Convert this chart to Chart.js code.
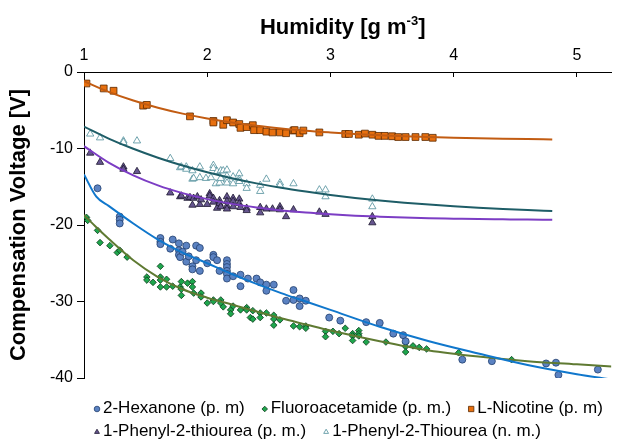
<!DOCTYPE html>
<html>
<head>
  <script src="https://cdn.jsdelivr.net/npm/chart.js"></script>
  <style>
    body { margin: 0; background: #fff; }
    #chart { display: block; }
  </style>
</head>
<body>
  <canvas id="chart" width="617" height="440"></canvas>
  <script>
    // measured points [humidity, compensation voltage]
    const hexanone = [
      [1.11,-15.2],[1.29,-18.9],[1.29,-19.3],[1.29,-19.8],[1.62,-21.7],[1.62,-22.2],[1.62,-22.5],
      [1.70,-23.1],[1.72,-21.9],[1.77,-22.4],[1.77,-23.3],[1.77,-23.9],[1.78,-24.2],[1.80,-23.5],
      [1.83,-22.7],[1.83,-24.8],[1.85,-24.1],[1.88,-25.4],[1.88,-25.8],[1.91,-22.7],[1.91,-24.6],
      [1.94,-23.0],[1.94,-26.0],[2.00,-25.0],[2.05,-23.9],[2.05,-24.2],[2.08,-24.6],[2.10,-26.0],
      [2.16,-24.6],[2.16,-25.1],[2.16,-25.5],[2.16,-26.0],[2.16,-26.4],[2.16,-27.0],[2.21,-26.7],
      [2.27,-26.5],[2.27,-28.0],[2.33,-27.0],[2.40,-27.0],[2.43,-27.5],[2.48,-27.8],[2.48,-28.6],
      [2.54,-27.8],[2.64,-29.9],[2.70,-28.5],[2.70,-29.8],[2.75,-29.6],[2.75,-30.6],[2.80,-29.9],
      [2.99,-32.1],[3.08,-32.5],[3.29,-32.7],[3.40,-32.8],[3.51,-34.2],[3.59,-34.4],[3.61,-35.2],
      [4.07,-37.6],[4.31,-37.8],[4.75,-38.1],[4.83,-38.0],[4.85,-39.6],[5.17,-38.9]
    ];
    const fluoroacetamide = [
      [1.02,-19.0],[1.03,-19.4],[1.11,-20.7],[1.13,-22.3],[1.21,-22.7],[1.27,-23.6],[1.29,-23.3],
      [1.35,-24.2],[1.51,-26.8],[1.51,-27.2],[1.56,-27.5],[1.62,-25.4],[1.62,-26.8],[1.62,-27.2],
      [1.62,-28.1],[1.67,-27.1],[1.67,-28.1],[1.72,-28.0],[1.78,-28.1],[1.79,-27.4],[1.79,-28.4],
      [1.79,-29.2],[1.84,-27.6],[1.88,-27.4],[1.88,-28.1],[1.89,-28.9],[1.95,-28.9],[1.95,-29.4],
      [2.00,-30.2],[2.05,-29.8],[2.05,-30.0],[2.11,-29.8],[2.11,-30.2],[2.13,-30.7],[2.19,-31.1],
      [2.19,-31.6],[2.21,-30.6],[2.27,-31.1],[2.32,-30.8],[2.32,-31.1],[2.35,-32.1],[2.37,-32.3],
      [2.37,-31.2],[2.43,-31.5],[2.43,-32.1],[2.48,-31.5],[2.54,-31.8],[2.54,-32.3],[2.54,-33.1],
      [2.59,-32.4],[2.70,-33.2],[2.75,-33.3],[2.80,-33.2],[2.80,-33.5],[2.96,-33.9],[2.96,-34.6],
      [3.02,-33.9],[3.07,-34.2],[3.12,-33.5],[3.18,-34.2],[3.18,-34.5],[3.18,-35.1],[3.23,-33.8],
      [3.23,-34.2],[3.23,-34.5],[3.29,-35.3],[3.45,-35.3],[3.61,-35.4],[3.61,-35.9],[3.61,-36.6],
      [3.67,-35.8],[3.72,-36.0],[3.78,-36.2],[4.04,-36.7],[4.47,-37.6]
    ];
    const nicotine = [
      [1.02,-1.5],[1.16,-2.15],[1.24,-2.45],[1.48,-4.4],[1.51,-4.3],[1.86,-5.8],[2.05,-6.4],
      [2.05,-6.6],[2.13,-6.9],[2.16,-6.3],[2.21,-6.6],[2.26,-6.8],[2.27,-7.3],[2.32,-7.2],
      [2.37,-6.95],[2.38,-7.6],[2.43,-7.6],[2.48,-7.8],[2.53,-7.9],[2.59,-7.9],[2.64,-8.0],
      [2.70,-7.65],[2.71,-7.6],[2.75,-8.0],[2.78,-7.65],[2.91,-7.9],[3.12,-8.1],[3.15,-8.1],
      [3.23,-8.2],[3.28,-8.05],[3.34,-8.2],[3.39,-8.35],[3.44,-8.35],[3.50,-8.4],[3.55,-8.5],
      [3.61,-8.5],[3.69,-8.5],[3.77,-8.5],[3.83,-8.6]
    ];
    const ptuPos = [
      [1.05,-10.6],[1.13,-11.8],[1.32,-12.4],[1.32,-12.7],[1.43,-13.0],[1.70,-15.8],[1.78,-16.3],
      [1.79,-16.2],[1.84,-16.5],[1.86,-16.4],[1.88,-17.4],[1.89,-16.5],[1.92,-16.3],[1.94,-17.3],
      [1.95,-16.7],[2.00,-17.3],[2.02,-15.9],[2.02,-16.2],[2.05,-16.5],[2.05,-17.0],[2.08,-17.8],
      [2.10,-16.8],[2.10,-17.2],[2.11,-17.6],[2.16,-16.3],[2.16,-16.9],[2.16,-17.5],[2.16,-17.9],
      [2.21,-16.5],[2.21,-16.9],[2.21,-17.6],[2.26,-16.6],[2.26,-17.2],[2.27,-17.7],[2.32,-17.8],
      [2.32,-18.1],[2.43,-17.7],[2.43,-18.4],[2.48,-17.9],[2.53,-17.9],[2.59,-17.6],[2.59,-18.0],
      [2.64,-18.9],[2.70,-18.0],[2.91,-18.3],[2.96,-18.6],[3.34,-18.9],[3.34,-19.7]
    ];
    const ptuNeg = [
      [1.05,-8.1],[1.13,-8.6],[1.32,-9.0],[1.32,-9.2],[1.43,-9.0],[1.70,-11.3],[1.78,-12.5],
      [1.79,-12.4],[1.83,-12.4],[1.83,-12.7],[1.88,-12.9],[1.88,-14.0],[1.89,-13.9],[1.94,-12.4],
      [1.94,-13.8],[1.99,-13.9],[2.03,-13.8],[2.05,-12.2],[2.05,-12.6],[2.07,-14.6],[2.08,-13.0],
      [2.10,-14.5],[2.11,-12.9],[2.11,-13.9],[2.13,-12.9],[2.16,-12.8],[2.16,-13.6],[2.16,-14.1],
      [2.16,-14.5],[2.21,-13.7],[2.21,-14.6],[2.26,-13.3],[2.26,-14.0],[2.26,-14.3],[2.32,-14.6],
      [2.32,-15.2],[2.43,-14.8],[2.43,-15.6],[2.48,-14.0],[2.59,-14.5],[2.59,-14.8],[2.70,-14.6],
      [2.91,-15.4],[2.96,-15.4],[2.96,-16.3],[3.34,-16.6],[3.34,-17.6]
    ];

    // trend lines
    const fitXShort = [1.0,1.2,1.4,1.6,1.8,2.0,2.2,2.4,2.6,2.8,3.0,3.2,3.4,3.6,3.8,4.0,4.2,4.4,4.6,4.8];
    const nicotineFit = [-1.2,-2.59,-3.73,-4.67,-5.44,-6.07,-6.59,-7.02,-7.37,-7.67,-7.9,-8.1,-8.26,-8.39,-8.5,-8.59,-8.66,-8.72,-8.77,-8.81];
    const ptuNegFit = [-7.15,-8.7,-10.04,-11.21,-12.23,-13.11,-13.88,-14.56,-15.14,-15.63,-16.07,-16.46,-16.8,-17.08,-17.33,-17.55,-17.74,-17.91,-18.05,-18.17];
    const ptuPosFit = [-9.7,-11.84,-13.51,-14.82,-15.83,-16.62,-17.24,-17.71,-18.09,-18.38,-18.6,-18.78,-18.91,-19.02,-19.11,-19.17,-19.23,-19.26,-19.29,-19.31];
    const fitXLong = [1.0,1.1,1.2,1.4,1.6,1.8,2.0,2.2,2.4,2.6,2.8,3.0,3.4,3.8,4.2,4.6,5.0,5.28];
    const hexanoneFit = [-13.4,-16.3,-17.5,-19.8,-21.9,-23.6,-25.0,-26.4,-27.7,-28.9,-30.0,-31.1,-33.3,-35.2,-36.8,-38.3,-39.5,-40.2];
    const fluoroFit = [-18.7,-20.3,-21.8,-24.6,-26.8,-28.4,-29.5,-30.4,-31.3,-32.2,-33.0,-33.8,-35.2,-36.4,-37.2,-37.8,-38.2,-38.5];

    const xTicks = [1, 2, 3, 4, 5];
    const yTicks = [0, -10, -20, -30, -40];

    const FONT = '"Liberation Sans", Arial, sans-serif';

    function pts(list) { return list.map(p => ({x: p[0], y: p[1]})); }
    function curve(xs, ys) { return xs.map((x, i) => ({x: x, y: ys[i]})); }

    function markers(label, data, style, radius, fill, border) {
      return {
        label: label, data: pts(data), order: 1,
        pointStyle: style, pointRadius: radius, pointHoverRadius: radius,
        pointBackgroundColor: fill, pointBorderColor: border, pointBorderWidth: 0.8,
        backgroundColor: fill, borderColor: border
      };
    }
    function trend(xs, ys, color) {
      return {
        data: curve(xs, ys), showLine: true, order: 0,
        borderColor: color, borderWidth: 2, pointRadius: 0,
        cubicInterpolationMode: 'monotone'
      };
    }

    // top title with superscript, and the two-row legend under the plot
    const extras = {
      id: 'extras',
      afterDraw(chart) {
        const ctx = chart.ctx;
        const area = chart.chartArea;
        ctx.save();
        ctx.fillStyle = '#000';
        ctx.textBaseline = 'alphabetic';
        const big = 'bold 22px ' + FONT, small = 'bold 13px ' + FONT;
        ctx.font = big;
        const a = 'Humidity [g m', c = ']';
        const wa = ctx.measureText(a).width, wc = ctx.measureText(c).width;
        ctx.font = small;
        const wb = ctx.measureText('-3').width;
        let x = (area.left + area.right) / 2 - 5 - (wa + wb + wc) / 2;
        const base = 34;
        ctx.font = big; ctx.fillText(a, x, base); x += wa;
        ctx.font = small; ctx.fillText('-3', x, base - 9); x += wb;
        ctx.font = big; ctx.fillText(c, x, base);

        const rows = [[0, 1, 2], [3, 4]];
        const rowY = [408, 431];
        ctx.font = '17px ' + FONT;
        ctx.textBaseline = 'middle';
        rows.forEach((row, r) => {
          let lx = 97;
          row.forEach(i => {
            const ds = chart.data.datasets[i];
            ctx.fillStyle = ds.pointBackgroundColor;
            ctx.strokeStyle = ds.pointBorderColor;
            ctx.lineWidth = 0.8;
            Chart.helpers.drawPoint(ctx, {pointStyle: ds.pointStyle, radius: ds.pointStyle === 'rect' ? 3.8 : 2.8, borderWidth: 0.8, rotation: 0}, lx, rowY[r] + 1);
            ctx.fillStyle = '#000';
            ctx.fillText(ds.label, lx + 6, rowY[r]);
            lx += 6 + ctx.measureText(ds.label).width + 20;
          });
        });
        ctx.restore();
      }
    };

    new Chart(document.getElementById('chart'), {
      type: 'scatter',
      data: {
        datasets: [
          markers('2-Hexanone (p. m)', hexanone, 'circle', 3.5, '#5b82c2', '#23406f'),
          markers('Fluoroacetamide (p. m.)', fluoroacetamide, 'rectRot', 3.3, '#1ea64d', '#0c3a1b'),
          markers('L-Nicotine (p. m)', nicotine, 'rect', 4.8, '#e8700f', '#5a2a00'),
          markers('1-Phenyl-2-thiourea (p. m.)', ptuPos, 'triangle', 4.2, '#66568f', '#1c162e'),
          markers('1-Phenyl-2-Thiourea (n. m.)', ptuNeg, 'triangle', 4.2, '#ffffff', '#4f8e9b'),
          trend(fitXShort, nicotineFit, '#c25c12'),
          trend(fitXShort, ptuNegFit, '#1e5d67'),
          trend(fitXShort, ptuPosFit, '#7c3dc4'),
          trend(fitXLong, hexanoneFit, '#1077cc'),
          trend(fitXLong, fluoroFit, '#5f7a32')
        ]
      },
      options: {
        responsive: false,
        animation: false,
        layout: { padding: { top: 0, left: 0, right: 0, bottom: 62 } },
        plugins: {
          legend: { display: false },
          tooltip: { enabled: false }
        },
        scales: {
          x: {
            type: 'linear', position: 'top', min: 1, max: 5.28,
            afterFit: s => { s.height = 72; },
            afterBuildTicks: s => { s.ticks = xTicks.map(v => ({value: v})); },
            ticks: { color: '#000', font: { family: FONT, size: 16 }, padding: 12 },
            grid: { drawOnChartArea: false, drawTicks: true, tickLength: -5, color: '#000' },
            border: { color: '#000', width: 1 }
          },
          y: {
            type: 'linear', min: -40, max: 0,
            afterFit: s => { s.width = 84; },
            afterBuildTicks: s => { s.ticks = yTicks.map(v => ({value: v})); },
            ticks: { color: '#000', font: { family: FONT, size: 16 }, padding: 4 },
            grid: { drawOnChartArea: false, drawTicks: true, tickLength: 7, color: '#000' },
            border: { color: '#000', width: 1 },
            title: {
              display: true, text: 'Compensation Voltage [V]', color: '#000',
              font: { family: FONT, size: 22, weight: 'bold' }, padding: { top: 6, bottom: 0 }
            }
          }
        }
      },
      plugins: [extras]
    });
  </script>
</body>
</html>
